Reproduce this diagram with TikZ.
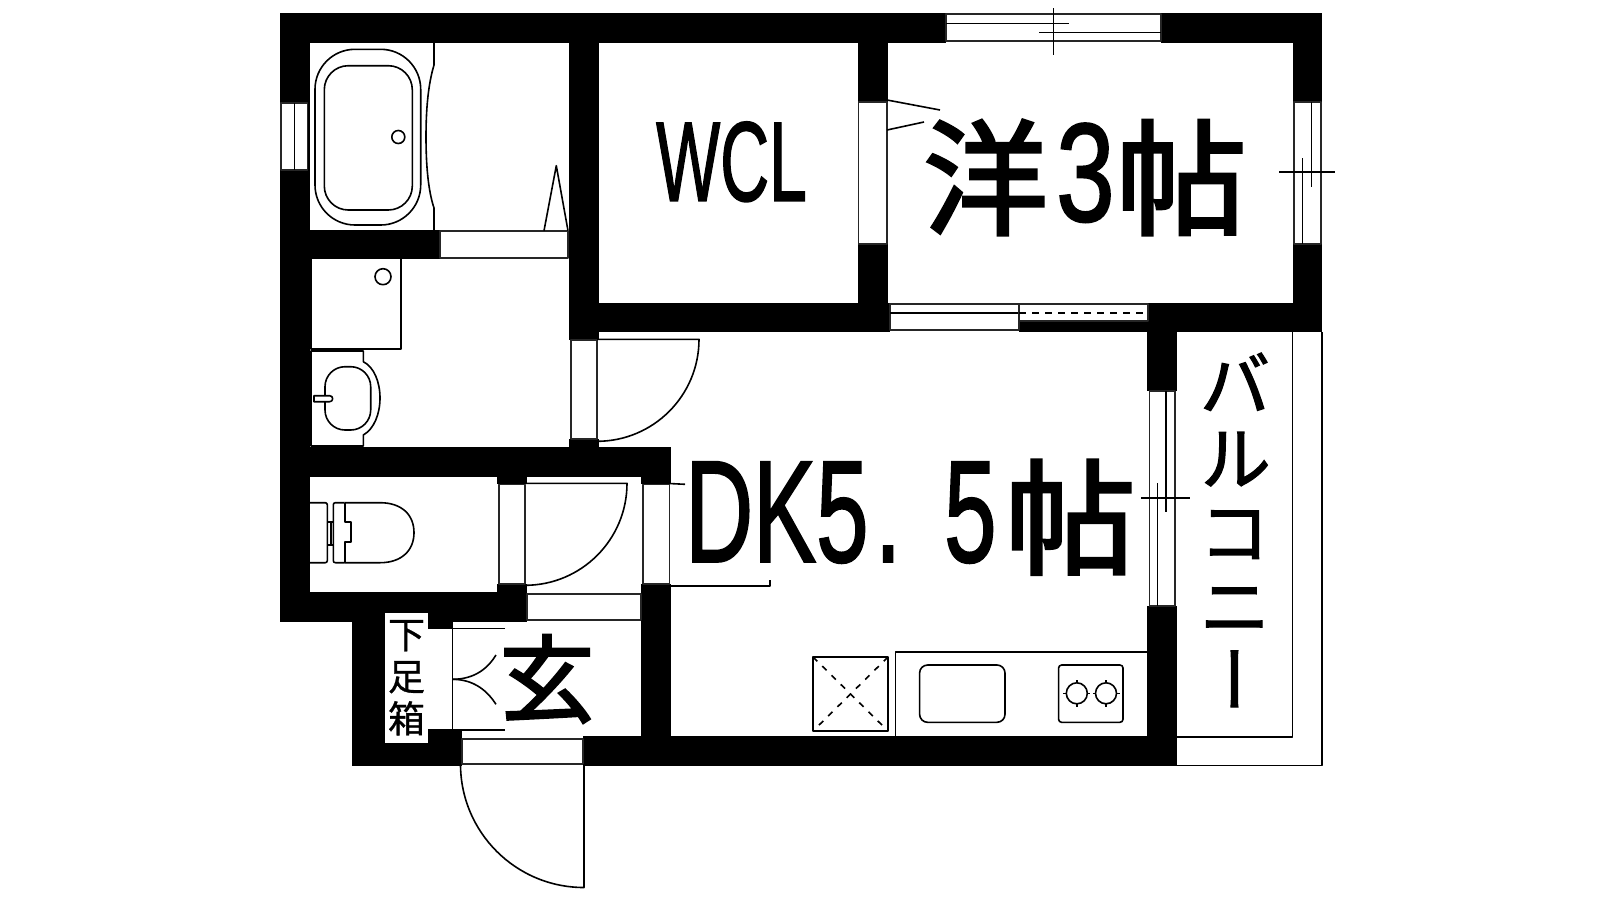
\documentclass[tikz,border=0pt]{standalone}
\usepackage{fontspec}
\setmainfont{Liberation Sans}[FakeBold=1.6]
\newfontfamily\cjkfont{Noto Sans CJK JP}[FakeBold=2.4]
\newfontfamily\cjkthin{Noto Sans CJK JP}[FakeBold=0.8]
\newfontfamily\cjkvert{Noto Sans CJK JP}[RawFeature={+vert},FakeBold=1.6]

\def\radiusburner{10.5}
\def\lenburner{3}
\def\radiusdoor{102}
\def\radiusentry{123.5}

\tikzset{
  wall/.style={fill=black},
  line/.style={line width=1.6pt, line join=round},
  pane/.style={line, fill=white, draw=black!85},
  label/.style={inner sep=0pt, anchor=base west},
}

\begin{document}
\begin{tikzpicture}[x=1pt, y=-1pt]
  \useasboundingbox (0,0) rectangle (1600,900);

  % Walls
  \foreach \xa/\ya/\xb/\yb in {280/13/946/43, 1161/13/1322/43, 280/13/310/622, 280/230/440/259,
      569/43/599/340, 569/439/599/447, 569/303/890/332, 1148/303/1322/332, 1019/321/1148/332,
      858/43/887.5/102, 858/244/887.5/303, 1292.5/13/1322/102, 1292.5/244/1322/332,
      280/447/671/477, 280/592/527/622, 497/477/527/484, 497/584/527/622, 641/477/671/484,
      641/584/671/736, 352/622/385/766, 428/622/453/629, 428/729/462/736, 352/736/462/766,
      583/736/1177/766, 1147/332/1177/391, 1147/606/1177/766}
    \fill [wall] (\xa, \ya) rectangle (\xb, \yb);

  % Windows on the outside
  \draw [pane] (946, 14) rectangle (1161, 41);
  \draw [line] (946, 23.3) -- (1068.6, 23.3);
  \draw [line] (1039, 32.3) -- (1161, 32.3);
  \draw [line] (1053.6, 8) -- (1053.6, 55);
  \draw [pane] (281, 102.7) rectangle (307.3, 170);
  \draw [line] (294.3, 102.7) -- (294.3, 170);
  \draw [pane] (1294, 102) rectangle (1320.7, 244);
  \draw [line] (1302.5, 158) -- (1302.5, 244);
  \draw [line] (1311.4, 102) -- (1311.4, 187);
  \draw [line] (1279, 172) -- (1335, 172);
  \draw [pane] (1149.3, 391) rectangle (1175, 606);
  \draw [line] (1157.3, 483) -- (1157.3, 606);
  \draw [line] (1166, 391) -- (1166, 512);
  \draw [line] (1141, 498) -- (1189.7, 498);

  % Openings between the rooms
  \draw [pane] (858.6, 102) rectangle (886.8, 244);
  \draw [pane] (890, 304) rectangle (1019, 330);
  \draw [line] (890, 313) -- (1019, 313);
  \draw [pane] (1019, 304) rectangle (1148, 320.7);
  \draw [line, dashed, dash pattern=on 7pt off 6pt] (1019, 313) -- (1148, 313);
  \draw [pane] (440, 231) rectangle (568, 258);
  \draw [pane] (570.7, 340) rectangle (597, 439);
  \draw [pane] (499, 484.3) rectangle (525, 584);
  \draw [pane] (642.7, 484.3) rectangle (669.3, 584);
  \draw [pane] (527, 594) rectangle (641, 620);
  \draw [pane] (462, 739) rectangle (583, 764);

  % Doors
  \draw [line] (597, 339.3) -- (699, 339.3) arc (0:90:\radiusdoor);
  \draw [line] (525, 483.3) -- (627, 483.3) arc (0:90:\radiusdoor);
  \draw [line] (584, 764) -- (584, 887.5) arc (90:180:\radiusentry);
  \draw [line] (669, 483.5) -- (685, 484.3);
  \draw [line] (669, 585.7) -- (770, 585.7) -- (770, 580);
  \draw [line] (887, 100) -- (940, 110);
  \draw [line] (887, 130) -- (924, 122);

  % Bath
  \draw [line, rounded corners=40pt] (315, 49.3) rectangle (420.7, 225);
  \draw [line, rounded corners=24pt] (324.3, 65.7) rectangle (412.3, 210);
  \draw [line] (398.3, 137) circle (6.5);
  \draw [line] (434, 43) -- (434, 65) .. controls (428, 85) and (426, 110) .. (426, 137)
    .. controls (426, 164) and (428, 190) .. (434, 208) -- (434, 230);
  \draw [line] (544, 230.7) -- (556.3, 165.7) -- (568, 230.7);

  % Washroom
  \draw [line] (311, 259) -- (311, 348.7) -- (400.7, 348.7) -- (400.7, 259);
  \draw [line] (383, 276.7) circle (8);
  \draw [line] (311, 351) -- (363.3, 351) -- (363.3, 361.7) .. controls (374, 367) and (380, 382) .. (380, 398)
    .. controls (380, 414) and (374, 429) .. (363.3, 435) -- (363.3, 446) -- (311, 446) -- cycle;
  \draw [line, rounded corners=20pt] (325, 366.7) rectangle (370.7, 430);
  \draw [line, fill=white] (314, 395.7) -- (329.7, 395.7) arc (-90:90:3) -- (314, 401.7) -- cycle;

  % Toilet
  \draw [line, rounded corners=2pt] (310, 502.7) -- (327.3, 502.7) -- (327.3, 562.7) -- (310, 562.7);
  \draw [line] (327.3, 521.7) -- (333.3, 521.7);
  \draw [line] (327.3, 545) -- (333.3, 545);
  \draw [line] (331, 521.7) -- (331, 545);
  \draw [line, rounded corners=2pt] (344.7, 502.7) -- (333.3, 502.7) -- (333.3, 562.7) -- (344.7, 562.7);
  \draw [line] (344.7, 502.7) -- (344.7, 521.7) -- (351, 521.7) -- (351, 541.7) -- (344.7, 541.7) -- (344.7, 562.7);
  \draw [line] (344.7, 502.7) -- (380, 502.7) .. controls (402, 502.7) and (414, 515) .. (414, 532.7)
    .. controls (414, 550) and (402, 562.7) .. (380, 562.7) -- (344.7, 562.7);

  % Entrance
  \draw [line] (505, 628.3) -- (452.3, 628.3) -- (452.3, 730) -- (505, 730);
  \draw [line] (452.3, 679.3) .. controls (475, 679.3) and (488, 668) .. (496, 655);
  \draw [line] (452.3, 679.3) .. controls (475, 679.3) and (488, 692) .. (496, 704.3);

  % Kitchen
  \draw [line] (813, 657) rectangle (888, 731);
  \draw [line, dashed, dash pattern=on 6pt off 7pt] (813, 657) -- (888, 731);
  \draw [line, dashed, dash pattern=on 6pt off 7pt] (888, 657) -- (813, 731);
  \draw [line] (895.4, 736) -- (895.4, 651.7) -- (1147, 651.7);
  \draw [line, rounded corners=8pt] (919.6, 665) rectangle (1005, 722.3);
  \draw [line, rounded corners=3pt] (1058.6, 665) rectangle (1123, 722.3);
  \foreach \burnerx in {1076.8, 1106} {
    \draw [line] (\burnerx, 693.3) circle (\radiusburner);
    \foreach \angle in {0, 90, 180, 270}
      \draw [line] ([shift=(\angle:\radiusburner)] \burnerx, 693.3) -- ++ (\angle:\lenburner);
  }

  % Balcony
  \draw [line] (1161, 765.5) -- (1321.7, 765.5) -- (1321.7, 332);
  \draw [line] (1177, 736.7) -- (1292.3, 736.7) -- (1292.3, 332);

  % Texts
  \node (wcl) [label, font=\fontsize{113}{113}\selectfont] at (656, 200.7) {\scalebox{.6}[1]{WCL}};
  \node (room) [label, font=\fontsize{125}{125}\selectfont] at (923, 221) {\cjkfont \raisebox{-4pt}{洋}\hspace{8pt}{\rmfamily\fontsize{140}{140}\selectfont\scalebox{.75}[1]{3}}\hspace{1pt}\raisebox{-4pt}{\scalebox{1.05}[1]{帖}}};
  \node (dk) [label, font=\fontsize{145}{145}\selectfont] at (685, 561.7) {\scalebox{.65}[1]{DK5\hspace{10pt}.\hspace{66pt}5}\hspace{8pt}{\cjkfont\fontsize{125}{125}\selectfont\raisebox{-3pt}{\scalebox{1.05}[1]{帖}}}};
  \node (entry) [inner sep=0pt, font=\cjkfont\fontsize{95}{95}\selectfont] at (547, 679) {玄};
  \node (shoes) [fill=white, inner sep=0pt, minimum width=43, minimum height=130, align=center,
    font=\cjkthin\fontsize{37}{42}\selectfont] at (406.5, 677.7) {下\\足\\箱};
  \node (balcony) [inner sep=0pt, align=center, font=\cjkvert\fontsize{72}{74}\selectfont] at (1235, 530) {バ\\ル\\コ\\ニ\\ー};
\end{tikzpicture}
\end{document}
